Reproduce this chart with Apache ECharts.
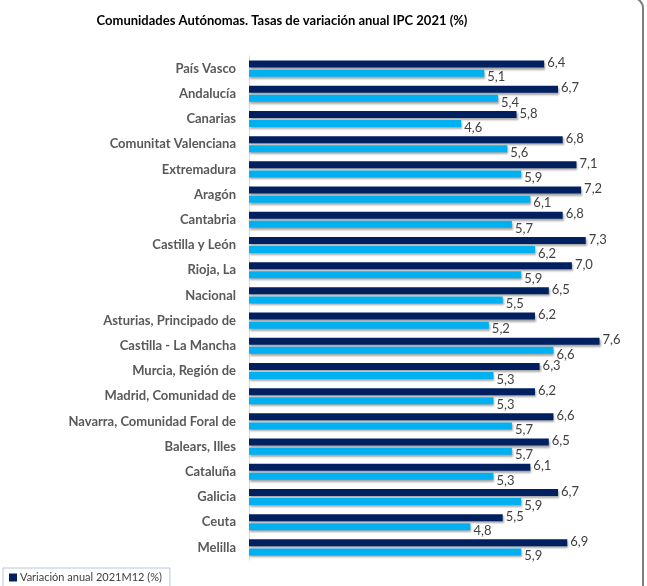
<!DOCTYPE html>
<html>
<head>
<meta charset="utf-8">
<script src="https://cdn.jsdelivr.net/npm/echarts@6/dist/echarts.min.js"></script>
<style>
  html, body { margin: 0; padding: 0; background: #fff; }
  #chart { width: 647px; height: 586px; }
</style>
</head>
<body>
<div id="chart"></div>
<script>
var regions = [
  'País Vasco', 'Andalucía', 'Canarias', 'Comunitat Valenciana', 'Extremadura',
  'Aragón', 'Cantabria', 'Castilla y León', 'Rioja, La', 'Nacional',
  'Asturias, Principado de', 'Castilla - La Mancha', 'Murcia, Región de',
  'Madrid, Comunidad de', 'Navarra, Comunidad Foral de', 'Balears, Illes',
  'Cataluña', 'Galicia', 'Ceuta', 'Melilla'
]
var variacionDic = [6.4, 6.7, 5.8, 6.8, 7.1, 7.2, 6.8, 7.3, 7.0, 6.5, 6.2, 7.6, 6.3, 6.2, 6.6, 6.5, 6.1, 6.7, 5.5, 6.9]
var variacionMedia = [5.1, 5.4, 4.6, 5.6, 5.9, 6.1, 5.7, 6.2, 5.9, 5.5, 5.2, 6.6, 5.3, 5.3, 5.7, 5.7, 5.3, 5.9, 4.8, 5.9]

var darkColor = '#002060'
var lightColor = '#00b0f0'
var font = 'Lato, "Open Sans", sans-serif'

function fmt (p) {
  return p.value.toFixed(1).replace('.', ',')
}

var chart = echarts.init(document.getElementById('chart'))
var option = {
  backgroundColor: '#fff',
  animation: false,
  title: {
    text: 'Comunidades Autónomas. Tasas de variación anual IPC 2021 (%)',
    left: 277,
    textAlign: 'center',
    top: 9,
    textStyle: { fontFamily: font, fontSize: 13, fontWeight: 'bold', color: '#000' }
  },
  legend: {
    data: ['Variación anual 2021M12 (%)'],
    left: 3,
    top: 568,
    orient: 'horizontal',
    icon: 'rect',
    itemWidth: 8,
    itemHeight: 8,
    itemGap: 4,
    padding: [4, 8, 6, 6],
    borderColor: '#b4c7dc',
    borderWidth: 1,
    textStyle: { fontFamily: font, fontSize: 11, color: '#404040', padding: [0, 0, 0, -2] }
  },
  grid: { left: 249, top: 56, height: 504, right: 29 },
  xAxis: {
    type: 'value',
    min: 0,
    max: 8,
    show: false
  },
  yAxis: {
    type: 'category',
    data: regions,
    inverse: true,
    axisLine: { lineStyle: { color: '#d9d9d9', width: 1 } },
    axisTick: { show: false },
    axisLabel: {
      margin: 13,
      fontFamily: font,
      fontSize: 13,
      fontWeight: 'bold',
      color: '#595959'
    }
  },
  series: [
    {
      name: 'Variación anual 2021M12 (%)',
      type: 'bar',
      data: variacionDic,
      barWidth: 7,
      barGap: '30%',
      itemStyle: {
        color: darkColor,
        shadowColor: 'rgba(0,0,0,0.35)',
        shadowBlur: 2,
        shadowOffsetX: 1,
        shadowOffsetY: 2
      },
      label: {
        show: true,
        position: 'right',
        distance: 3,
        offset: [0, -1],
        formatter: fmt,
        fontFamily: font,
        fontSize: 13,
        color: '#404040'
      }
    },
    {
      name: 'Variación media anual 2021 (%)',
      type: 'bar',
      data: variacionMedia,
      barWidth: 7,
      itemStyle: {
        color: lightColor,
        shadowColor: 'rgba(0,0,0,0.35)',
        shadowBlur: 2,
        shadowOffsetX: 1,
        shadowOffsetY: 2
      },
      label: {
        show: true,
        position: 'right',
        distance: 3,
        offset: [0, 4],
        formatter: fmt,
        fontFamily: font,
        fontSize: 13,
        color: '#404040'
      }
    }
  ],
  graphic: [
    {
      type: 'rect',
      shape: { x: -20, y: -2, width: 663, height: 700, r: 10 },
      style: { fill: null, stroke: '#7f7f7f', lineWidth: 2 },
      silent: true
    }
  ]
}
chart.setOption(option)
</script>
</body>
</html>
